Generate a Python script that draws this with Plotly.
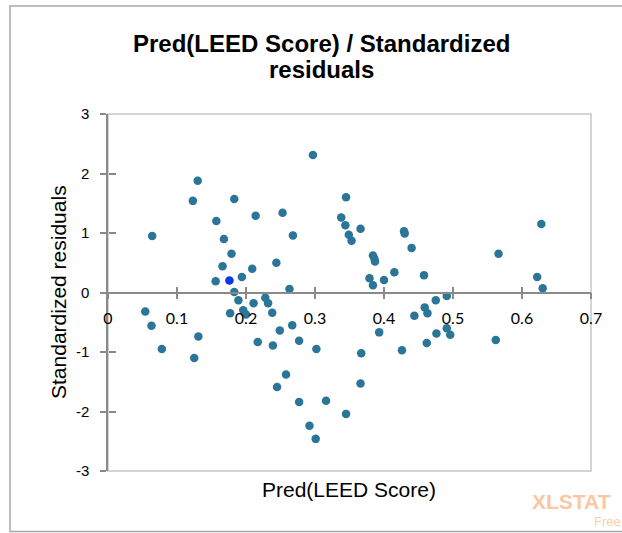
import plotly.graph_objects as go

# ---- data ----
pred_leed = [0.130, 0.123, 0.183, 0.157, 0.214, 0.253, 0.064, 0.168, 0.179, 0.166,
             0.209, 0.244, 0.156, 0.194, 0.183, 0.189, 0.211, 0.228, 0.232, 0.054,
             0.063, 0.131, 0.078, 0.125, 0.177, 0.196, 0.200, 0.238, 0.249, 0.217,
             0.239, 0.245, 0.297, 0.345, 0.338, 0.344, 0.349, 0.353, 0.366, 0.268,
             0.429, 0.430, 0.440, 0.384, 0.386, 0.387, 0.415, 0.458, 0.379, 0.400,
             0.384, 0.263, 0.491, 0.475, 0.459, 0.267, 0.277, 0.302, 0.367, 0.258,
             0.366, 0.277, 0.316, 0.345, 0.292, 0.301, 0.393, 0.426, 0.444, 0.463,
             0.476, 0.462, 0.491, 0.496, 0.628, 0.566, 0.622, 0.630, 0.562]
std_resid = [1.88, 1.54, 1.57, 1.20, 1.29, 1.34, 0.95, 0.90, 0.65, 0.44,
             0.40, 0.50, 0.19, 0.26, 0.01, -0.13, -0.18, -0.09, -0.18, -0.32,
             -0.56, -0.74, -0.95, -1.10, -0.35, -0.30, -0.37, -0.34, -0.64, -0.83,
             -0.89, -1.59, 2.31, 1.60, 1.26, 1.13, 0.97, 0.87, 1.07, 0.96,
             1.03, 0.99, 0.75, 0.62, 0.57, 0.52, 0.34, 0.29, 0.24, 0.21,
             0.12, 0.06, -0.06, -0.13, -0.25, -0.55, -0.81, -0.95, -1.02, -1.38,
             -1.53, -1.84, -1.82, -2.04, -2.24, -2.46, -0.67, -0.97, -0.39, -0.35,
             -0.69, -0.85, -0.60, -0.71, 1.15, 0.65, 0.26, 0.07, -0.80]
highlight_pred = [0.176]
highlight_resid = [0.20]

x_ticks = [0, 0.1, 0.2, 0.3, 0.4, 0.5, 0.6, 0.7]
x_tick_text = ["0", "0.1", "0.2", "0.3", "0.4", "0.5", "0.6", "0.7"]
y_ticks = [-3, -2, -1, 0, 1, 2, 3]
y_tick_text = ["-3", "-2", "-1", "0", "1", "2", "3"]

title_line1 = "Pred(LEED Score) / Standardized"
title_line2 = "residuals"
x_title = "Pred(LEED Score)"
y_title = "Standardized residuals"

W, H = 622, 533
L, R, T, B = 108, 31, 114, 62
pw, ph = W - L - R, H - T - B


def px(x):
    return (x - L) / pw


def py(y):
    return (H - B - y) / ph


fig = go.Figure()
fig.add_trace(go.Scatter(x=pred_leed, y=std_resid, mode="markers",
                         marker=dict(size=8.5, color="#2b7598"),
                         showlegend=False, hoverinfo="x+y"))
fig.add_trace(go.Scatter(x=highlight_pred, y=highlight_resid, mode="markers",
                         marker=dict(size=8.5, color="#0a37e8"),
                         showlegend=False, hoverinfo="x+y"))
# empty trace so the overlay axes (inner tick halves) are drawn
fig.add_trace(go.Scatter(x=[], y=[], xaxis="x2", yaxis="y2", showlegend=False))

axis_grey = "#8a8a8a"
fig.update_layout(
    width=W, height=H,
    margin=dict(l=L, r=R, t=T, b=B),
    paper_bgcolor="white", plot_bgcolor="white",
    xaxis=dict(range=[0, 0.7], tickvals=x_ticks, ticktext=x_tick_text,
               anchor="free", position=0.5, showgrid=False, zeroline=False,
               showline=True, linecolor=axis_grey, linewidth=1.5,
               ticks="outside", ticklen=6, tickcolor=axis_grey, tickwidth=1.5,
               ticklabelstandoff=6,
               tickfont=dict(family="Lato", size=16, color="#000000")),
    yaxis=dict(range=[-3, 3], tickvals=y_ticks, ticktext=y_tick_text,
               showgrid=False, zeroline=False,
               showline=True, linecolor=axis_grey, linewidth=1.5,
               ticks="outside", ticklen=6, tickcolor=axis_grey, tickwidth=1.5,
               ticklabelstandoff=8,
               tickfont=dict(family="Liberation Sans", size=15, color="#000000")),
    xaxis2=dict(range=[0, 0.7], tickvals=x_ticks, overlaying="x",
                anchor="free", position=0.5, showgrid=False, zeroline=False,
                showline=False, showticklabels=False,
                ticks="inside", ticklen=6, tickcolor=axis_grey, tickwidth=1.5),
    yaxis2=dict(range=[-3, 3], tickvals=y_ticks, overlaying="y",
                anchor="free", position=0, side="left",
                showgrid=False, zeroline=False,
                showline=False, showticklabels=False,
                ticks="inside", ticklen=7, tickcolor=axis_grey, tickwidth=1.5),
    shapes=[
        # plot-area frame
        dict(type="rect", xref="paper", yref="paper", x0=0, x1=1, y0=0, y1=1,
             line=dict(color="#c6c6c6", width=1.5), layer="below"),
        # outer chart frame
        dict(type="rect", xref="paper", yref="paper",
             x0=px(10), x1=px(640), y0=py(531.5), y1=py(6),
             line=dict(color="#a8a8a8", width=1.5), layer="below"),
    ],
    annotations=[
        dict(text="<b>" + title_line1 + "</b>", xref="paper", yref="paper",
             x=px(321), y=py(43), xanchor="center", yanchor="middle",
             showarrow=False,
             font=dict(family="Liberation Sans", size=24, color="#000000")),
        dict(text="<b>" + title_line2 + "</b>", xref="paper", yref="paper",
             x=px(321), y=py(69), xanchor="center", yanchor="middle",
             showarrow=False,
             font=dict(family="Liberation Sans", size=24, color="#000000")),
        dict(text=x_title, xref="paper", yref="paper",
             x=px(349), y=py(489), xanchor="center", yanchor="middle",
             showarrow=False,
             font=dict(family="Liberation Sans", size=21, color="#000000")),
        dict(text=y_title, xref="paper", yref="paper", textangle=-90,
             x=px(58), y=py(292), xanchor="center", yanchor="middle",
             showarrow=False,
             font=dict(family="Liberation Sans", size=21, color="#000000")),
        dict(text="<b>XLSTAT</b>", xref="paper", yref="paper",
             x=px(530), y=py(501), xanchor="left", yanchor="middle",
             showarrow=False,
             font=dict(family="Liberation Sans", size=21, color="#fcc6a2")),
        dict(text="Free", xref="paper", yref="paper",
             x=px(592), y=py(521), xanchor="left", yanchor="middle",
             showarrow=False,
             font=dict(family="Liberation Sans", size=13, color="#fccdaa")),
    ],
)

fig.write_html("out.html",
               config={"displayModeBar": False},
               post_script="document.body.style.margin='0px';"
                           "document.body.style.padding='0px';")
